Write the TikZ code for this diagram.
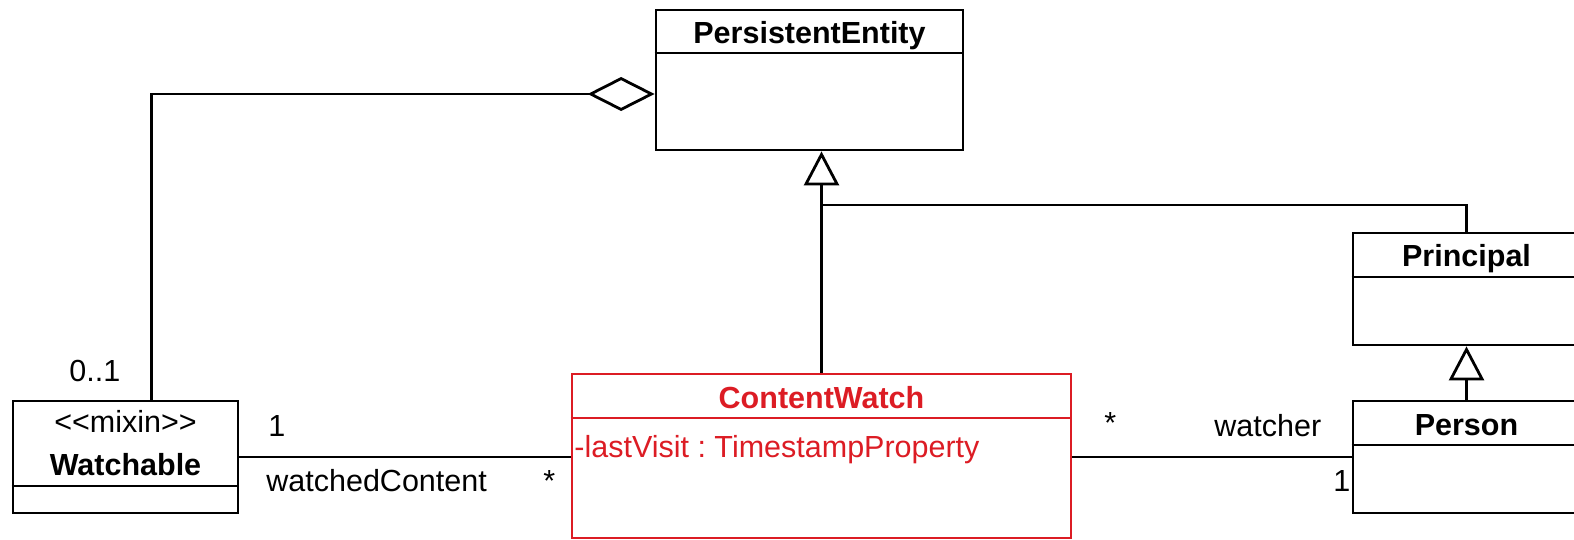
\documentclass[tikz,border=0pt]{standalone}
\usepackage{fontspec}
\setmainfont{Liberation Sans}
\usetikzlibrary{arrows.meta}
\definecolor{umlred}{RGB}{220,28,36}

\begin{document}
\frenchspacing
\begin{tikzpicture}[x=1pt, y=-1pt, line width=2.8pt,
  classbox/.style={draw, rectangle, inner sep=0pt},
  title/.style={font=\bfseries\fontsize{30.5}{36}\selectfont, anchor=base, inner sep=0pt},
  txt/.style={font=\fontsize{30.5}{36}\selectfont, anchor=base west, inner sep=0pt},
  gen/.style={-{Triangle[open, length=34pt, width=35pt]}},
  aggr/.style={-{Diamond[open, length=67pt, width=34pt]}}]
  \useasboundingbox (0,0) rectangle (1574,539);
  \clip (0,0) rectangle (1574,539);

  % Classes
  \node[classbox, minimum width=307pt, minimum height=140pt] (pe) at (809.5,80) {};
  \node[classbox, draw=umlred, minimum width=499pt, minimum height=164pt] (cw) at (821.5,456) {};
  \node[classbox, minimum width=225pt, minimum height=112pt] (wa) at (125.5,457) {};
  \node[classbox, minimum width=227pt, minimum height=112pt] (pr) at (1466.5,289) {};
  \node[classbox, minimum width=227pt, minimum height=112pt] (ps) at (1466.5,457) {};

  % Compartments
  \draw              (pe.west |- 0,53)  -- (pe.east |- 0,53);
  \draw[umlred]      (cw.west |- 0,418) -- (cw.east |- 0,418);
  \draw              (wa.west |- 0,486) -- (wa.east |- 0,486);
  \draw              (pr.west |- 0,277) -- (pr.east |- 0,277);
  \draw              (ps.west |- 0,445) -- (ps.east |- 0,445);

  % Names
  \node[title]         (pe-name)   at (pe.north |- 0,43)  {PersistentEntity};
  \node[title, umlred] (cw-name)   at (cw.north |- 0,408) {ContentWatch};
  \node[title]         (wa-name)   at (wa.north |- 0,475) {Watchable};
  \node[title, font=\fontsize{30.5}{36}\selectfont] (wa-stereo) at (wa.north |- 0,432) {<{}<mixin>{}>};
  \node[title]         (pr-name)   at (pr.north |- 0,266) {Principal};
  \node[title]         (ps-name)   at (ps.north |- 0,435) {Person};
  \node[txt, umlred]   (cw-attr)   at (573,457) {-lastVisit : TimestampProperty};

  % Inheritance
  \coordinate (joint) at (cw.north |- 0,205);
  \draw[gen] (cw.north) -- (cw.north |- pe.south);
  \draw      (pr.north) |- (joint);
  \draw[gen] (ps.north) -- (pr.south);

  % Associations
  \draw[aggr] ([xshift=140pt]wa.north west) |- (pe.west |- 0,94);
  \draw (wa.east) -- (wa.east -| cw.west);
  \draw (cw.east |- ps.west) -- (ps.west);

  % Ends
  \node[txt] (agg-mult)  at (68,381)   {0..1};
  \node[txt] (wa-mult)   at (267,436)  {1};
  \node[txt] (wa-role)   at (265,491)  {watchedContent};
  \node[txt] (cw-mult-l) at (542,491)  {*};
  \node[txt] (cw-mult-r) at (1103,433) {*};
  \node[txt] (ps-role)   at (1213,436) {watcher};
  \node[txt] (ps-mult)   at (1332,491) {1};
\end{tikzpicture}
\end{document}
